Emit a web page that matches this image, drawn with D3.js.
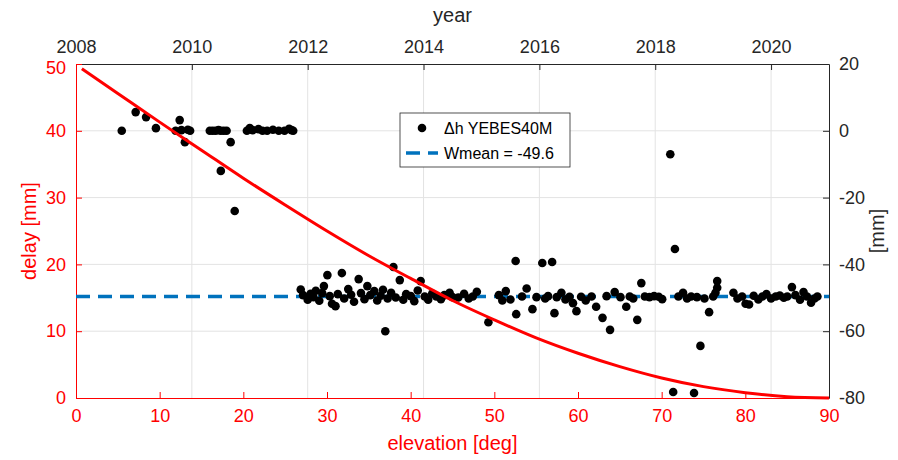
<!DOCTYPE html>
<html><head><meta charset="utf-8">
<script src="https://cdn.jsdelivr.net/npm/d3@7"></script>
<style>body{margin:0;background:#fff}text{font-family:Arial,"Liberation Sans",sans-serif}</style>
</head><body>
<script>
const width = 898
const height = 460
const m = {left: 76, right: 829, top: 64, bottom: 398}

// red curve: delay vs elevation
const curveElev = [0.7, 5, 10, 15, 20, 25, 30, 35, 40, 45, 50, 55, 60, 65, 70, 75, 80, 85, 90]
const curveDelay = [49.3, 45.6, 41.3, 37.1, 32.9, 28.9, 25.0, 21.3, 17.9, 14.6, 11.7, 9.0, 6.7, 4.7, 3.0, 1.7, 0.8, 0.2, 0]

// scatter: dh YEBES40M, year vs mm
const ptYear = [
  2008.79, 2009.03, 2009.21, 2009.38, 2009.72, 2009.79, 2009.82, 2009.88, 2009.93, 2009.97,
  2010.31, 2010.36, 2010.41, 2010.46, 2010.5, 2010.55, 2010.6, 2010.67, 2010.5, 2010.74,
  2010.95, 2011.0, 2011.05, 2011.15, 2011.22, 2011.3, 2011.4, 2011.5, 2011.6, 2011.68, 2011.72, 2011.75,
  2011.88, 2011.92, 2012.0, 2012.05, 2012.1, 2012.14, 2012.2, 2012.25, 2012.28, 2012.34, 2012.38, 2012.42,
  2012.48, 2012.52, 2012.59, 2012.63, 2012.7, 2012.75, 2012.8, 2012.88, 2012.92, 2012.98, 2013.03, 2013.08,
  2013.15, 2013.2, 2013.26, 2013.3, 2013.34, 2013.38, 2013.44, 2013.48, 2013.52, 2013.59, 2013.65, 2013.7,
  2013.78, 2013.84, 2013.9, 2013.95, 2014.02, 2014.08, 2014.15, 2014.22, 2014.3, 2014.36, 2014.45, 2014.5,
  2014.6, 2014.7, 2014.78, 2014.85, 2014.92, 2015.12, 2015.3, 2015.36, 2015.42, 2015.5, 2015.59, 2015.6,
  2015.7, 2015.78, 2015.88, 2015.95, 2016.05, 2016.1, 2016.15, 2016.22, 2016.26, 2016.3, 2016.38, 2016.45,
  2016.52, 2016.58, 2016.64, 2016.72, 2016.8, 2016.9, 2016.98, 2017.09, 2017.16, 2017.22, 2017.3, 2017.4,
  2017.5, 2017.56, 2017.62, 2017.69, 2017.76, 2017.82, 2017.9, 2017.98, 2018.06, 2018.12, 2018.26, 2018.31,
  2018.34, 2018.4, 2018.48, 2018.55, 2018.62, 2018.67, 2018.72, 2018.78, 2018.85, 2018.93, 2019.0, 2019.04,
  2019.07, 2019.07, 2019.35, 2019.42, 2019.5, 2019.56, 2019.62, 2019.7, 2019.78, 2019.85, 2019.92, 2020.0,
  2020.08, 2020.15, 2020.22, 2020.28, 2020.36, 2020.42, 2020.5, 2020.56, 2020.62, 2020.69, 2020.75, 2020.8
]
const ptMm = [
  0, 5.6, 4.1, 0.8, 0, 3.2, 0.2, -3.4, 0.3, 0,
  0, 0, 0, 0.2, 0, 0, 0, -3.4, -12, -24,
  0, 0.8, 0.2, 0.5, 0, 0, 0.3, 0, 0, 0.6, 0.2, 0,
  -47.5, -49.2, -50.6, -48.8, -49.8, -47.9, -50.9, -48.6, -46.5, -43.2, -49.5, -51.8,
  -52.5, -48.9, -42.6, -50.2, -47.4, -49.1, -51.2, -44.4, -48.6, -50.4, -46.5, -49.2,
  -48.0, -50.8, -49.4, -47.6, -60, -50.2, -48.5, -40.8, -49.9, -44.7, -50.6, -48.9,
  -49.5, -51.0, -47.8, -45, -49.6, -50.6, -48.7, -49.6, -50.4, -49.2, -48.5, -49.8,
  -49.9, -48.8, -50.2, -49.6, -48.2, -57.3, -49.2, -50.8, -48.0, -50.5, -39, -54.9,
  -49.6, -47.2, -53.4, -49.8, -39.6, -50.2, -49.5, -39.3, -54.6, -49.8, -48.5, -50.5,
  -49.7, -51.6, -54, -49.7, -50.8, -49.6, -52.7, -56, -49.5, -59.6, -48.3, -49.8,
  -52.7, -49.6, -50.2, -56.6, -45.6, -49.6, -49.8, -49.5, -49.7, -50.4, -7, -78.2,
  -35.4, -49.6, -48.5, -50.2, -49.6, -78.5, -49.8, -64.4, -50.2, -54.3, -49.6, -48.5,
  -45, -47, -48.5, -50.2, -49.6, -51.8, -52, -49.4, -50.5, -49.6, -48.9, -50.2,
  -49.6, -49.3, -50.0, -49.6, -46.8, -49.2, -50.6, -48.3, -49.6, -51.5, -50.2, -49.6
]

const wmean = -49.6
const legendText = ["\u0394h YEBES40M", "Wmean = -49.6"]

const svg = d3.select("body").append("svg")
    .attr("width", width)
    .attr("height", height);

const xElev = d3.scaleLinear().domain([0, 90]).range([m.left, m.right])
const xYear = d3.scaleLinear().domain([2008, 2021]).range([m.left, m.right])
const yDelay = d3.scaleLinear().domain([0, 50]).range([m.bottom, m.top])
const yMm = d3.scaleLinear().domain([-80, 20]).range([m.bottom, m.top])

// grid
const grid = svg.append("g").attr("stroke", "#e3e3e3").attr("stroke-width", 1)
grid.selectAll(".gx").data(d3.range(2010, 2021, 2)).enter().append("line")
    .attr("x1", d => xYear(d)).attr("x2", d => xYear(d))
    .attr("y1", m.top).attr("y2", m.bottom)
grid.selectAll(".gy").data(d3.range(10, 50, 10)).enter().append("line")
    .attr("y1", d => yDelay(d)).attr("y2", d => yDelay(d))
    .attr("x1", m.left).attr("x2", m.right)

function styleAxis(g, color) {
  g.select(".domain").attr("stroke", color)
  g.selectAll(".tick line").attr("stroke", color)
  g.selectAll(".tick text").attr("fill", color).style("font-size", "18px")
}

const axB = svg.append("g").attr("transform", `translate(0,${m.bottom})`)
    .call(d3.axisBottom(xElev).tickValues(d3.range(0, 91, 10)).tickSizeInner(-6).tickSizeOuter(0).tickPadding(11))
styleAxis(axB, "#ff0000")
const axT = svg.append("g").attr("transform", `translate(0,${m.top})`)
    .call(d3.axisTop(xYear).tickValues(d3.range(2008, 2021, 2)).tickFormat(d3.format("d")).tickSizeInner(-6).tickSizeOuter(0).tickPadding(11))
styleAxis(axT, "#262626")
const axL = svg.append("g").attr("transform", `translate(${m.left},0)`)
    .call(d3.axisLeft(yDelay).tickValues(d3.range(0, 51, 10)).tickSizeInner(-6).tickSizeOuter(0).tickPadding(10))
styleAxis(axL, "#ff0000")
axL.selectAll(".tick text").filter(d => d === 50).attr("dy", "0.5em")
const axR = svg.append("g").attr("transform", `translate(${m.right},0)`)
    .call(d3.axisRight(yMm).tickValues(d3.range(-80, 21, 20)).tickFormat(d => String(d)).tickSizeInner(-6).tickSizeOuter(0).tickPadding(10))
styleAxis(axR, "#262626")

// mean line
svg.append("line")
    .attr("x1", m.left).attr("x2", m.right)
    .attr("y1", yMm(wmean)).attr("y2", yMm(wmean))
    .attr("stroke", "#0072bd").attr("stroke-width", 3.5).attr("stroke-dasharray", "14,8")

// points
svg.append("g").selectAll("circle").data(ptYear).enter().append("circle")
    .attr("cx", d => xYear(d))
    .attr("cy", (d, i) => yMm(ptMm[i]))
    .attr("r", 4.3).attr("fill", "#000")

// red curve
const line = d3.line()
    .x(d => xElev(d[0])).y(d => yDelay(d[1]))
    .curve(d3.curveMonotoneX)
svg.append("path")
    .datum(curveElev.map((e, i) => [e, curveDelay[i]]))
    .attr("d", line).attr("fill", "none")
    .attr("stroke", "#ff0000").attr("stroke-width", 3)

// legend
const lg = svg.append("g").attr("transform", "translate(400,113)")
lg.append("rect").attr("width", 170).attr("height", 54)
    .attr("fill", "#fff").attr("stroke", "#262626").attr("stroke-width", 0.8)
lg.append("circle").attr("cx", 22).attr("cy", 15).attr("r", 4.3).attr("fill", "#000")
lg.append("line").attr("x1", 6).attr("x2", 38).attr("y1", 40).attr("y2", 40)
    .attr("stroke", "#0072bd").attr("stroke-width", 3.5).attr("stroke-dasharray", "14,8")
lg.selectAll("text").data(legendText).enter().append("text")
    .attr("x", 44).attr("y", (d, i) => 21 + i * 25)
    .style("font-size", "16px").attr("fill", "#000").text(d => d)

// labels
svg.append("text").attr("x", (m.left + m.right) / 2).attr("y", 22)
    .attr("text-anchor", "middle").style("font-size", "20px").attr("fill", "#262626").text("year")
svg.append("text").attr("x", (m.left + m.right) / 2).attr("y", 450)
    .attr("text-anchor", "middle").style("font-size", "20px").attr("fill", "#ff0000").text("elevation [deg]")
svg.append("text").attr("transform", `translate(36,${(m.top + m.bottom) / 2}) rotate(-90)`)
    .attr("text-anchor", "middle").style("font-size", "20px").attr("fill", "#ff0000").text("delay [mm]")
svg.append("text").attr("transform", `translate(884,${(m.top + m.bottom) / 2}) rotate(-90)`)
    .attr("text-anchor", "middle").style("font-size", "20px").attr("fill", "#262626").text("[mm]")
</script>
</body></html>
